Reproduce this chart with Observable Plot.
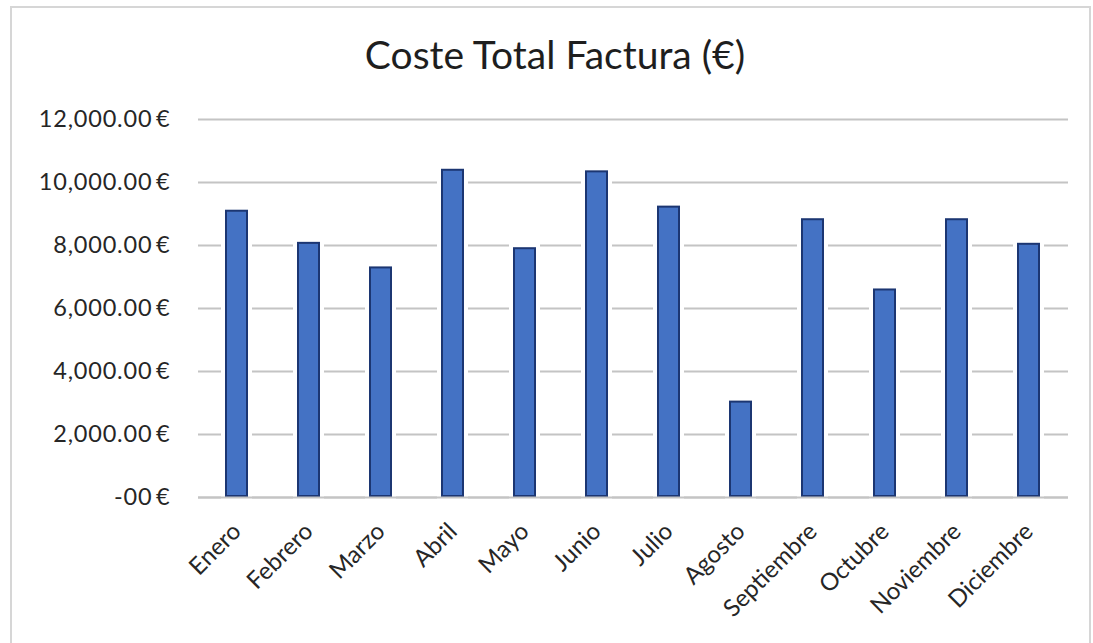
<!DOCTYPE html>
<html>
<head>
<meta charset="utf-8">
<script src="https://cdn.jsdelivr.net/npm/d3@7"></script>
<script src="https://cdn.jsdelivr.net/npm/@observablehq/plot@0.6"></script>
<style>
  html, body { margin: 0; padding: 0; background: #fff; }
  #wrap { position: relative; width: 1093px; height: 643px; overflow: hidden; font-family: Lato, "Open Sans", sans-serif; }
  #frame { position: absolute; left: 10px; top: 6px; width: 1081px; height: 680px; border: 2px solid #d6d6d6; box-sizing: border-box; }
  #title { position: absolute; left: 255px; width: 600px; top: 35px; text-align: center; font-size: 39px; line-height: 1; color: #1e1e1e; }
  #chart { position: absolute; left: 0; top: 0; }
  #chart g[aria-label="y-axis tick label"] text { letter-spacing: 0.8px; }
</style>
</head>
<body>
<div id="wrap">
  <div id="frame"></div>
  <div id="title">Coste Total Factura (€)</div>
  <div id="chart"></div>
</div>
<script>
// Monthly invoice totals (€)
const months = ["Enero", "Febrero", "Marzo", "Abril", "Mayo", "Junio", "Julio", "Agosto", "Septiembre", "Octubre", "Noviembre", "Diciembre"];
const costs = [9120, 8100, 7320, 10420, 7930, 10370, 9250, 3060, 8850, 6620, 8850, 8070];

// Value axis ticks and their labels
const yTicks = [0, 2000, 4000, 6000, 8000, 10000, 12000];
const yTickLabels = ["-00\u2009€", "2,000.00\u2009€", "4,000.00\u2009€", "6,000.00\u2009€", "8,000.00\u2009€", "10,000.00\u2009€", "12,000.00\u2009€"];

const data = months.map((m, i) => ({month: m, cost: costs[i]}));

const chart = Plot.plot({
  width: 1093,
  height: 643,
  marginTop: 119,
  marginBottom: 146,
  marginLeft: 198,
  marginRight: 25,
  style: {fontFamily: "Lato, 'Open Sans', sans-serif", fontSize: "23px", color: "#262626", background: "transparent"},
  x: {domain: months, paddingInner: 0.68, paddingOuter: 0.34},
  y: {domain: [0, 12000]},
  marks: [
    Plot.ruleY(yTicks, {stroke: "#c4c4c4", strokeWidth: 2}),
    // white halo that interrupts the gridlines around each column
    Plot.barY(data, {x: "month", y: "cost", fill: "#fff", stroke: "#fff", strokeWidth: 8}),
    Plot.barY(data, {x: "month", y: "cost", fill: "#4472c4", stroke: "#1c3672", strokeWidth: 2, inset: 1}),
    Plot.ruleY([0], {stroke: "#c4c4c4", strokeWidth: 2}),
    Plot.axisY({ticks: yTicks, tickFormat: d => yTickLabels[yTicks.indexOf(d)], tickSize: 0, tickPadding: 28, label: null, fontSize: 23.5}),
    Plot.axisX({tickSize: 0, tickRotate: -45, tickPadding: 30, dx: 0, label: null, fontSize: 24})
  ]
});
document.getElementById("chart").appendChild(chart);
</script>
</body>
</html>
